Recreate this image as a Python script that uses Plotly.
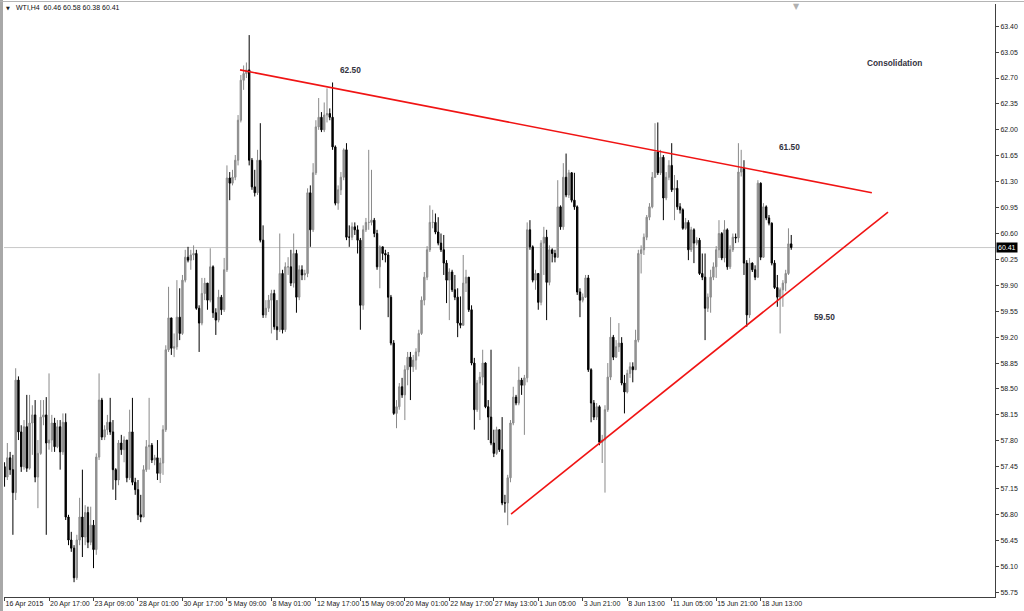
import plotly.graph_objects as go

# ---------------- data (WTI, H4) ----------------
opens = [
    57.45, 57.31, 57.57, 57.41, 57.10, 58.62, 57.92, 57.45, 57.99, 57.43,
    58.04, 58.15, 57.31, 57.63, 58.12, 58.15, 57.77, 57.81, 58.04, 57.72,
    57.99, 57.65, 58.05, 56.77, 56.46, 56.35, 55.95, 56.46, 56.77, 56.50,
    56.83, 56.43, 56.66, 56.33, 57.58, 58.35, 57.85, 57.95, 58.05, 57.92,
    57.41, 57.27, 57.77, 57.68, 57.81, 57.30, 57.92, 57.24, 57.14, 56.80,
    56.77, 57.41, 57.72, 57.74, 57.54, 57.57, 57.36, 57.50, 57.95, 59.03,
    59.46, 59.05, 59.07, 59.47, 59.25, 59.97, 60.28, 60.24, 60.31, 60.33,
    59.59, 59.39, 59.79, 59.93, 59.70, 60.15, 59.53, 59.43, 59.74, 59.57,
    60.11, 61.35, 61.28, 61.36, 61.59, 62.13, 62.67, 62.76, 62.81, 61.59,
    61.23, 61.15, 61.59, 60.51, 59.50, 59.59, 59.70, 59.79, 59.34, 59.30,
    60.06, 59.30, 60.15, 60.15, 59.93, 60.33, 59.74, 60.11, 60.04, 60.06,
    61.15, 60.65, 61.42, 62.04, 62.17, 62.00, 62.20, 62.22, 62.17, 61.77,
    61.01, 61.19, 61.36, 61.73, 60.55, 60.55, 60.69, 60.65, 60.51, 59.63,
    60.65, 60.75, 60.75, 60.78, 60.60, 60.15, 60.42, 60.33, 60.31, 59.74,
    59.12, 58.17, 58.26, 58.53, 58.42, 58.76, 58.93, 58.80, 58.89, 59.00,
    59.25, 59.70, 60.01, 60.38, 60.75, 60.75, 60.62, 60.47, 60.38, 60.20,
    59.97, 60.08, 59.84, 59.74, 59.39, 59.36, 59.93, 60.01, 59.57, 58.85,
    58.22, 58.58, 58.66, 58.85, 58.26, 58.12, 57.77, 57.63, 57.95, 57.68,
    56.96, 56.96, 57.30, 58.04, 58.39, 58.31, 58.62, 58.55, 58.65, 60.65,
    60.42, 59.97, 60.06, 59.67, 60.47, 60.55, 59.94, 60.38, 60.33, 60.28,
    60.96, 60.69, 61.36, 61.12, 61.42, 61.05, 60.96, 59.81, 59.70, 59.74,
    60.00, 58.76, 58.31, 58.12, 58.26, 57.78, 57.81, 58.22, 58.66, 59.20,
    58.93, 59.07, 59.12, 58.58, 58.46, 58.71, 58.80, 58.76, 59.16, 60.33,
    60.38, 60.55, 60.82, 60.96, 61.36, 61.70, 61.42, 61.63, 61.08, 61.36,
    61.52, 61.19, 61.21, 60.96, 60.92, 60.67, 60.75, 60.38, 60.65, 60.47,
    60.51, 60.06, 60.01, 59.59, 59.74, 60.01, 60.15, 60.38, 60.60, 60.27,
    60.65, 60.15, 60.38, 60.55, 60.54, 61.43, 61.48, 60.20, 59.50, 60.20,
    60.11, 60.01, 61.28, 60.28, 60.96, 60.81, 60.74, 60.20, 59.87, 59.74,
    59.84, 59.93, 60.06, 60.46,
]
highs = [
    57.51, 57.77, 57.65, 57.61, 58.78, 58.67, 58.01, 58.08, 58.42, 58.42,
    58.28, 58.35, 57.81, 58.35, 58.35, 58.39, 58.71, 58.15, 58.11, 58.08,
    58.08, 58.17, 58.17, 56.80, 56.57, 56.39, 56.53, 57.03, 57.41, 56.93,
    56.91, 56.91, 56.73, 57.63, 58.71, 58.38, 58.01, 58.15, 58.38, 58.08,
    57.43, 57.81, 57.88, 57.86, 57.68, 58.22, 58.38, 57.30, 57.27, 57.07,
    57.47, 57.81, 58.38, 57.77, 57.61, 57.81, 57.57, 58.01, 59.09, 59.88,
    59.46, 59.25, 59.97, 59.86, 60.04, 60.38, 60.42, 60.38, 60.44, 60.38,
    59.63, 60.00, 60.00, 59.84, 60.40, 60.17, 59.59, 59.84, 59.77, 60.27,
    61.52, 61.43, 61.46, 61.66, 62.20, 62.74, 62.87, 62.91, 63.28, 61.62,
    61.46, 61.73, 62.09, 60.71, 59.70, 59.77, 59.84, 59.84, 59.70, 60.60,
    60.11, 60.21, 60.28, 60.38, 60.60, 60.38, 60.17, 60.17, 60.11, 61.21,
    61.25, 61.55, 62.13, 62.43, 62.24, 62.37, 62.56, 62.29, 62.64, 61.79,
    61.25, 61.43, 61.75, 61.82, 60.71, 60.75, 60.75, 60.71, 60.54, 60.71,
    60.81, 61.73, 61.46, 60.81, 60.65, 60.44, 60.40, 60.38, 60.35, 59.77,
    59.16, 58.35, 58.58, 58.65, 58.82, 59.00, 59.00, 58.96, 59.05, 59.30,
    59.75, 60.08, 60.43, 60.98, 60.92, 60.87, 60.82, 60.60, 60.58, 60.24,
    60.13, 60.11, 60.04, 59.86, 59.75, 60.31, 60.11, 60.00, 59.63, 58.92,
    58.62, 58.73, 59.03, 58.86, 58.35, 59.03, 57.95, 57.99, 57.95, 58.12,
    57.07, 57.34, 58.08, 58.53, 58.42, 58.80, 58.65, 58.69, 60.75, 60.78,
    60.44, 60.11, 60.04, 60.51, 60.69, 60.65, 60.44, 60.40, 60.38, 61.32,
    60.98, 61.55, 61.68, 61.46, 61.43, 61.42, 60.98, 59.86, 59.79, 60.04,
    60.04, 58.78, 58.35, 58.31, 58.28, 57.88, 58.28, 58.85, 59.47, 59.23,
    59.16, 59.39, 59.20, 58.69, 58.76, 58.86, 58.86, 59.30, 60.38, 60.44,
    60.60, 60.85, 61.01, 61.43, 62.09, 62.10, 61.73, 61.66, 61.43, 61.59,
    61.82, 61.39, 61.32, 61.01, 60.94, 60.81, 60.78, 60.69, 60.67, 60.55,
    60.54, 60.33, 60.33, 59.79, 60.11, 60.21, 60.43, 60.78, 60.62, 60.78,
    60.67, 60.44, 60.60, 60.60, 61.82, 61.73, 61.59, 60.24, 60.27, 60.21,
    60.17, 61.32, 61.29, 61.01, 60.98, 60.85, 60.75, 60.24, 60.04, 59.87,
    59.97, 60.11, 60.67, 60.58,
]
lows = [
    57.18, 57.27, 57.34, 56.53, 57.00, 57.81, 57.38, 57.41, 57.38, 57.41,
    57.61, 57.24, 56.89, 57.61, 58.01, 56.53, 57.68, 57.65, 57.65, 57.70,
    57.41, 57.61, 56.73, 56.39, 56.30, 55.89, 55.92, 56.39, 56.23, 56.39,
    56.35, 56.39, 56.08, 56.26, 57.54, 57.81, 57.81, 57.88, 57.88, 57.14,
    57.00, 57.20, 57.61, 57.51, 57.24, 57.27, 57.20, 57.07, 56.73, 56.70,
    56.84, 57.38, 57.41, 57.50, 57.47, 57.27, 57.23, 57.34, 57.92, 59.00,
    58.96, 58.93, 59.03, 59.16, 59.23, 59.94, 60.21, 60.11, 60.24, 59.57,
    59.00, 59.36, 59.70, 59.57, 59.67, 59.46, 59.23, 59.40, 59.50, 59.54,
    60.08, 61.05, 61.25, 61.32, 61.52, 62.10, 62.54, 62.70, 61.52, 61.19,
    61.10, 61.12, 60.48, 59.46, 59.46, 59.54, 59.25, 59.30, 59.16, 59.27,
    59.25, 59.27, 60.04, 59.89, 59.87, 59.53, 59.70, 59.97, 59.97, 60.01,
    60.42, 60.62, 61.39, 62.00, 61.97, 61.97, 62.10, 62.13, 61.73, 60.98,
    60.92, 61.12, 61.32, 60.51, 60.42, 60.51, 60.58, 60.33, 59.30, 59.57,
    60.62, 60.65, 60.71, 60.55, 60.11, 59.86, 60.24, 60.21, 59.47, 59.09,
    58.15, 57.97, 58.22, 58.38, 58.08, 58.55, 58.35, 58.73, 58.76, 58.94,
    59.23, 59.63, 59.97, 60.35, 60.67, 60.59, 60.44, 60.35, 60.04, 59.66,
    59.43, 59.81, 59.70, 59.20, 59.32, 59.43, 59.81, 59.54, 58.82, 57.95,
    58.19, 58.08, 58.55, 58.24, 57.81, 57.74, 57.58, 57.61, 57.65, 56.93,
    56.83, 56.66, 57.24, 58.01, 58.28, 58.28, 58.42, 57.88, 58.59, 60.38,
    59.94, 59.84, 59.57, 59.63, 60.04, 59.43, 59.90, 60.21, 60.21, 60.27,
    60.65, 60.65, 61.09, 61.08, 61.02, 60.92, 59.77, 59.47, 59.67, 59.73,
    58.73, 58.05, 58.08, 58.08, 57.74, 57.50, 57.10, 58.19, 58.62, 58.89,
    58.92, 59.00, 58.55, 58.17, 58.44, 58.65, 58.59, 58.76, 59.13, 60.06,
    60.31, 60.51, 60.78, 60.94, 61.35, 61.39, 61.39, 60.78, 61.05, 61.32,
    61.16, 60.78, 60.92, 60.87, 60.65, 60.65, 60.24, 60.35, 60.20, 60.44,
    60.04, 59.97, 59.16, 59.54, 59.53, 59.97, 60.00, 60.27, 60.24, 60.21,
    60.11, 60.12, 60.35, 60.47, 60.48, 61.37, 60.04, 59.34, 59.46, 60.08,
    59.97, 60.00, 60.24, 60.27, 60.78, 60.71, 60.17, 59.85, 59.61, 59.25,
    59.61, 59.82, 60.04, 60.38,
]
closes = [
    57.31, 57.57, 57.41, 57.10, 58.62, 57.92, 57.45, 57.99, 57.43, 58.04,
    58.15, 57.31, 57.63, 58.12, 58.15, 57.77, 57.81, 58.04, 57.72, 57.99,
    57.65, 58.05, 56.77, 56.46, 56.35, 55.95, 56.46, 56.77, 56.50, 56.83,
    56.43, 56.66, 56.33, 57.58, 58.35, 57.85, 57.95, 58.05, 57.92, 57.41,
    57.27, 57.77, 57.68, 57.81, 57.30, 57.92, 57.24, 57.14, 56.80, 56.77,
    57.41, 57.72, 57.74, 57.54, 57.57, 57.36, 57.50, 57.95, 59.03, 59.46,
    59.05, 59.07, 59.47, 59.25, 59.97, 60.28, 60.24, 60.31, 60.33, 59.59,
    59.39, 59.79, 59.93, 59.70, 60.15, 59.53, 59.43, 59.74, 59.57, 60.11,
    61.35, 61.28, 61.36, 61.59, 62.13, 62.67, 62.76, 62.81, 61.59, 61.23,
    61.15, 61.59, 60.51, 59.50, 59.59, 59.70, 59.79, 59.34, 59.30, 60.06,
    59.30, 60.15, 60.15, 59.93, 60.33, 59.74, 60.11, 60.04, 60.06, 61.15,
    60.65, 61.42, 62.04, 62.17, 62.00, 62.20, 62.22, 62.17, 61.77, 61.01,
    61.19, 61.36, 61.73, 60.55, 60.55, 60.69, 60.65, 60.51, 59.63, 60.65,
    60.75, 60.75, 60.78, 60.60, 60.15, 60.42, 60.33, 60.31, 59.74, 59.12,
    58.17, 58.26, 58.53, 58.42, 58.76, 58.93, 58.80, 58.89, 59.00, 59.25,
    59.70, 60.01, 60.38, 60.75, 60.75, 60.62, 60.47, 60.38, 60.20, 59.97,
    60.08, 59.84, 59.74, 59.39, 59.36, 59.93, 60.01, 59.57, 58.85, 58.22,
    58.58, 58.66, 58.85, 58.26, 58.12, 57.77, 57.63, 57.95, 57.68, 56.96,
    56.96, 57.30, 58.04, 58.39, 58.31, 58.62, 58.55, 58.65, 60.65, 60.42,
    59.97, 60.06, 59.67, 60.47, 60.55, 59.94, 60.38, 60.33, 60.28, 60.96,
    60.69, 61.36, 61.12, 61.42, 61.05, 60.96, 59.81, 59.70, 59.74, 60.00,
    58.76, 58.31, 58.12, 58.26, 57.78, 57.81, 58.22, 58.66, 59.20, 58.93,
    59.07, 59.12, 58.58, 58.46, 58.71, 58.80, 58.76, 59.16, 60.33, 60.38,
    60.55, 60.82, 60.96, 61.36, 61.70, 61.42, 61.63, 61.08, 61.36, 61.52,
    61.19, 61.21, 60.96, 60.92, 60.67, 60.75, 60.38, 60.65, 60.47, 60.51,
    60.06, 60.01, 59.59, 59.74, 60.01, 60.15, 60.38, 60.60, 60.27, 60.65,
    60.15, 60.38, 60.55, 60.54, 61.43, 61.48, 60.20, 59.50, 60.20, 60.11,
    60.01, 61.28, 60.28, 60.96, 60.81, 60.74, 60.20, 59.87, 59.74, 59.84,
    59.93, 60.06, 60.46, 60.41,
]
bar_index = list(range(len(closes)))

x_tick_pos = [0, 16, 32, 48, 64, 80, 96, 112, 128, 144, 160, 176, 192, 208, 224, 240, 256, 272]
x_tick_labels = ["16 Apr 2015", "20 Apr 17:00", "23 Apr 09:00", "28 Apr 01:00", "30 Apr 17:00",
                 "5 May 09:00", "8 May 01:00", "12 May 17:00", "15 May 09:00", "20 May 01:00",
                 "22 May 17:00", "27 May 13:00", "1 Jun 05:00", "3 Jun 21:00", "8 Jun 13:00",
                 "11 Jun 05:00", "15 Jun 21:00", "18 Jun 13:00"]
y_tick_vals = [63.40, 63.05, 62.70, 62.35, 62.00, 61.65, 61.30, 60.95, 60.60, 60.25, 59.90, 59.55,
               59.20, 58.85, 58.50, 58.15, 57.80, 57.45, 57.15, 56.80, 56.45, 56.10, 55.75]
y_tick_labels = ["%.2f" % v for v in y_tick_vals]

last_price = 60.41
title_text = "WTI,H4  60.46 60.58 60.38 60.41"

# trend lines (bar index, price)
resist_x = [84.7, 312.0]
resist_y = [62.81, 61.15]
support_x = [182.2, 317.8]
support_y = [56.81, 60.89]

level_labels = ["62.50", "61.50", "59.50", "Consolidation"]
level_x = [124.3, 282.5, 295.1, 320.0]
level_y = [62.81, 61.77, 59.47, 62.90]

FONT = "Liberation Sans, Arial, sans-serif"

fig = go.Figure()
fig.add_trace(go.Candlestick(
    x=bar_index, open=opens, high=highs, low=lows, close=closes,
    increasing=dict(fillcolor="#9a9a9a", line=dict(color="#8a8a8a", width=1)),
    decreasing=dict(fillcolor="#000000", line=dict(color="#000000", width=1)),
    hoverinfo="skip", showlegend=False,
))
fig.add_trace(go.Scatter(x=resist_x, y=resist_y, mode="lines",
                         line=dict(color="#f01414", width=1.6), hoverinfo="skip", showlegend=False))
fig.add_trace(go.Scatter(x=support_x, y=support_y, mode="lines",
                         line=dict(color="#f01414", width=1.6), hoverinfo="skip", showlegend=False))

# current price line
fig.add_shape(type="line", xref="paper", yref="y", x0=0, x1=1, y0=last_price, y1=last_price,
              line=dict(color="#c8c8c8", width=1), layer="below")
# window frame
fig.add_shape(type="rect", xref="paper", yref="paper", x0=-0.00404, x1=-0.00101, y0=-0.0236, y1=1.0067,
              fillcolor="#a8a8a8", line=dict(width=0))
fig.add_shape(type="line", xref="paper", yref="paper", x0=-0.00404, x1=1.0293, y0=1.0042, y1=1.0042,
              line=dict(color="#b4b4b4", width=1))

annotations = []
for t, xv, yv in zip(level_labels, level_x, level_y):
    annotations.append(dict(x=xv, y=yv, xref="x", yref="y", text="<b>%s</b>" % t, showarrow=False,
                            font=dict(family=FONT, size=8.3, color="#333340")))
annotations.append(dict(x=0.0101, y=0.9933, xref="paper", yref="paper", text=title_text,
                        xanchor="left", yanchor="middle", showarrow=False,
                        font=dict(family=FONT, size=7, color="#101010")))
annotations.append(dict(x=0.004, y=0.9933, xref="paper", yref="paper", text="▼",
                        xanchor="center", yanchor="middle", showarrow=False,
                        font=dict(family="DejaVu Sans", size=5, color="#202020")))
annotations.append(dict(x=0.7992, y=1.0067, xref="paper", yref="paper", text="▼",
                        xanchor="center", yanchor="top", showarrow=False,
                        font=dict(family="DejaVu Sans", size=8, color="#b0b0b0")))
annotations.append(dict(x=1, y=last_price, xref="paper", yref="y", text="%.2f" % last_price,
                        xanchor="left", yanchor="middle", xshift=1, showarrow=False,
                        bgcolor="#000000", borderpad=1,
                        font=dict(family=FONT, size=7, color="#ffffff")))

fig.update_layout(
    width=1024, height=611,
    margin=dict(l=4, r=29, t=4, b=14, autoexpand=False),
    paper_bgcolor="white", plot_bgcolor="white",
    showlegend=False,
    annotations=annotations,
    xaxis=dict(range=[-0.2, 356.3], tickvals=x_tick_pos, ticktext=x_tick_labels,
               ticks="outside", ticklen=3, tickcolor="#404040", ticklabelposition="outside right",
               tickangle=0, automargin=False,
               showline=True, linecolor="#404040", linewidth=1, showgrid=False, zeroline=False,
               rangeslider=dict(visible=False), fixedrange=True,
               tickfont=dict(family=FONT, size=7, color="#202020")),
    yaxis=dict(side="right", range=[55.69, 63.70], tickvals=y_tick_vals, ticktext=y_tick_labels,
               ticks="outside", ticklen=3, tickcolor="#404040", automargin=False,
               showline=True, linecolor="#404040", linewidth=1, showgrid=False, zeroline=False,
               fixedrange=True, tickfont=dict(family=FONT, size=7, color="#202020")),
)

fig.write_html("out.html", config={"displayModeBar": False},
               post_script="document.body.style.margin='0';document.body.style.overflow='hidden';")
